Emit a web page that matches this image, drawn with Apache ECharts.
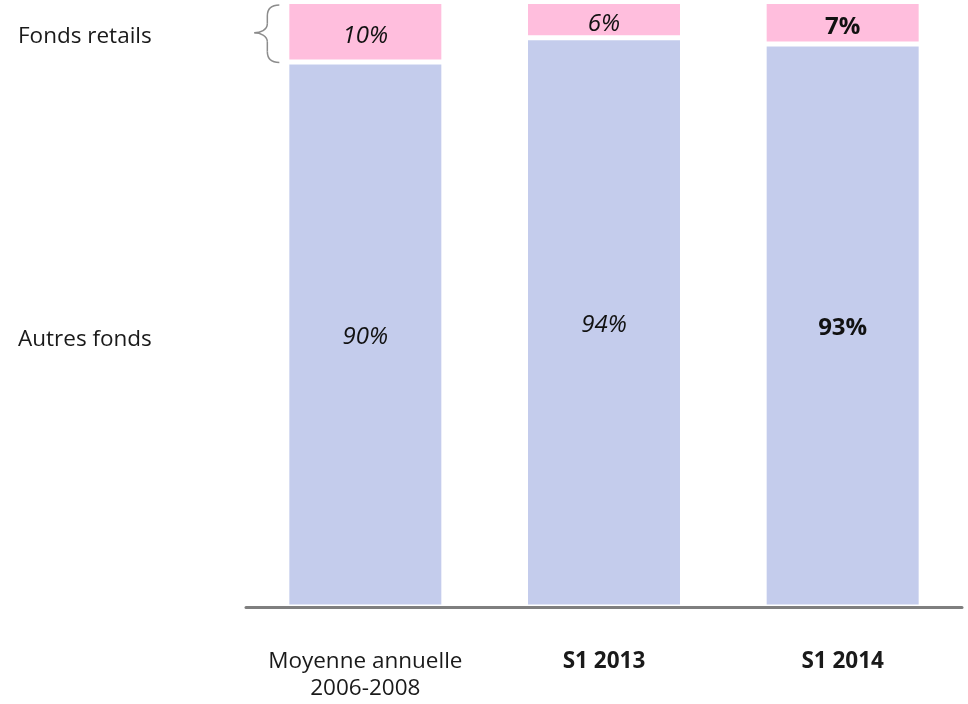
<!DOCTYPE html>
<html><head><meta charset="utf-8">
<script src="https://cdn.jsdelivr.net/npm/echarts@6/dist/echarts.min.js"></script>
<style>html,body{margin:0;padding:0;background:#fff}#c{width:968px;height:704px}</style>
</head><body><div id="c"></div>
<script>
const categories = ['Moyenne annuelle\n2006-2008', 'S1 2013', 'S1 2014'];
const autresFonds = [90, 94, 93];
const fondsRetails = [10, 6, 7];
const seriesNames = ['Autres fonds', 'Fonds retails'];
const boldCategory = [false, true, true];
const boldValue = [false, false, true];

const FONT = '"Open Sans", sans-serif';
const TXT = '#1a1a1a';
const chart = echarts.init(document.getElementById('c'), null, {renderer: 'canvas'});

function valueData(arr) {
  return arr.map((v, i) => ({
    value: v,
    label: boldValue[i] ? {fontStyle: 'normal', fontWeight: 'bold'} : {fontStyle: 'italic', fontWeight: 'normal'}
  }));
}

const barStyle = (color) => ({color: color, borderColor: '#ffffff', borderWidth: 2.5});
const labelBase = (dy) => ({show: true, position: 'inside', offset: [0, dy], formatter: '{c}%', color: '#111', fontFamily: FONT, fontSize: 24});

chart.setOption({
  animation: false,
  backgroundColor: '#ffffff',
  grid: {left: 246, right: 6, top: 1.5, bottom: 97, containLabel: false},
  xAxis: {
    type: 'category',
    data: categories,
    z: 5,
    axisLine: {show: true, lineStyle: {color: '#7f7f7f', width: 3}},
    axisTick: {show: false},
    axisLabel: {
      interval: 0, hideOverlap: false,
      margin: 41, color: TXT, fontFamily: FONT, fontSize: 22.5, lineHeight: 27,
      formatter: (v, i) => boldCategory[i] ? '{b|' + v + '}' : v,
      rich: {b: {fontWeight: 'bold', fontFamily: FONT, fontSize: 22.5, lineHeight: 27, color: TXT}}
    }
  },
  yAxis: {type: 'value', min: 0, max: 100, show: false, splitLine: {show: false}},
  series: [
    {name: seriesNames[0], type: 'bar', stack: 'total', barWidth: 157, data: valueData(autresFonds),
     itemStyle: barStyle('#c4ccec'), label: labelBase(3)},
    {name: seriesNames[1], type: 'bar', stack: 'total', barWidth: 157, data: valueData(fondsRetails),
     itemStyle: barStyle('#ffbedd'), label: labelBase(4)}
  ]
});

// Annotations positioned from the chart's own scales
const pTop = chart.convertToPixel({seriesIndex: 0}, [0, 100]);
const pMid = chart.convertToPixel({seriesIndex: 0}, [0, autresFonds[0]]);
const pBot = chart.convertToPixel({seriesIndex: 0}, [0, 0]);
const barLeft = pTop[0] - 76;
const x1 = barLeft - 10, xm = barLeft - 22, x0 = barLeft - 35;
const y1 = pTop[1] + 3.5, y2 = pMid[1] + 0.5, ym = (y1 + y2) / 2 - 1;
const braceStyle = {fill: null, stroke: '#8c8c8c', lineWidth: 1.5};

function curve(sx, sy, c1x, c1y, c2x, c2y, ex, ey) {
  return {type: 'bezierCurve', silent: true,
    shape: {x1: sx, y1: sy, cpx1: c1x, cpy1: c1y, cpx2: c2x, cpy2: c2y, x2: ex, y2: ey}, style: braceStyle};
}
function seg(sx, sy, ex, ey) {
  return {type: 'line', silent: true, shape: {x1: sx, y1: sy, x2: ex, y2: ey}, style: braceStyle};
}

chart.setOption({
  graphic: [
    curve(x1, y1, xm + 4, y1, xm, y1 + 4, xm, y1 + 11),
    seg(xm, y1 + 11, xm, ym - 9),
    curve(xm, ym - 9, xm, ym - 3, x0 + 6, ym, x0, ym),
    curve(x0, ym, x0 + 6, ym, xm, ym + 3, xm, ym + 9),
    seg(xm, ym + 9, xm, y2 - 11),
    curve(xm, y2 - 11, xm, y2 - 4, xm + 4, y2, x1, y2),
    {type: 'text', x: 18, y: (pTop[1] + pMid[1]) / 2 + 5,
     style: {text: seriesNames[1], fontFamily: FONT, fontSize: 22.5, fill: TXT, verticalAlign: 'middle'}},
    {type: 'text', x: 18, y: (pMid[1] + pBot[1]) / 2 + 5,
     style: {text: seriesNames[0], fontFamily: FONT, fontSize: 22.5, fill: TXT, verticalAlign: 'middle'}}
  ]
});
</script></body></html>
